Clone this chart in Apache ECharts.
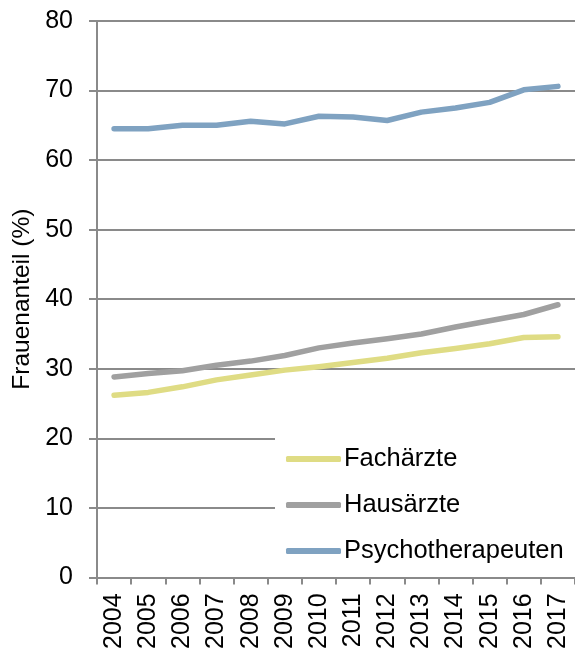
<!DOCTYPE html>
<html>
<head>
<meta charset="utf-8">
<script src="https://cdn.jsdelivr.net/npm/echarts@6/dist/echarts.min.js"></script>
<style>
html,body{margin:0;padding:0;background:#fff;}
#c{width:575px;height:652px;}
</style>
</head>
<body>
<div id="c"></div>
<script>
var years = ['2004','2005','2006','2007','2008','2009','2010','2011','2012','2013','2014','2015','2016','2017'];
var fachaerzte = [26.2, 26.6, 27.4, 28.4, 29.1, 29.8, 30.3, 30.9, 31.5, 32.3, 32.9, 33.6, 34.5, 34.6];
var hausaerzte = [28.8, 29.3, 29.7, 30.5, 31.1, 31.9, 33.0, 33.7, 34.3, 35.0, 36.0, 36.9, 37.8, 39.2];
var psychotherapeuten = [64.5, 64.5, 65.0, 65.0, 65.6, 65.2, 66.3, 66.2, 65.7, 66.9, 67.5, 68.3, 70.1, 70.6];
var yTicks = [0, 10, 20, 30, 40, 50, 60, 70, 80];

var font = 'Liberation Sans, Arial, sans-serif';
var axisColor = '#8a8a8a';
var chart = echarts.init(document.getElementById('c'));
function mk(name, data, color) {
  return {
    name: name, type: 'line', data: data, symbol: 'none', smooth: false,
    lineStyle: { color: color, width: 5.5, cap: 'round', join: 'round' },
    itemStyle: { color: color }
  };
}
chart.setOption({
  animation: false,
  backgroundColor: '#fff',
  grid: { left: 97, right: -4, top: 21, bottom: 73, containLabel: false },
  xAxis: {
    type: 'category', data: years, boundaryGap: true,
    axisLine: { lineStyle: { color: axisColor, width: 2 } },
    axisTick: { show: true, alignWithLabel: false, length: 7, lineStyle: { color: axisColor, width: 2 } },
    axisLabel: { rotate: 90, margin: 16, fontSize: 25, color: '#000', fontFamily: font, interval: 0 },
    splitLine: { show: false }
  },
  yAxis: {
    type: 'value', min: yTicks[0], max: yTicks[yTicks.length - 1], interval: 10,
    name: 'Frauenanteil (%)', nameLocation: 'middle', nameGap: 62, nameRotate: 90,
    nameTextStyle: { fontSize: 24.5, color: '#000', fontFamily: font },
    axisLine: { show: true, lineStyle: { color: axisColor, width: 2 } },
    axisTick: { show: true, length: 8, lineStyle: { color: axisColor, width: 2 } },
    axisLabel: { margin: 24, fontSize: 25, color: '#000', fontFamily: font },
    splitLine: { show: true, lineStyle: { color: axisColor, width: 2 } }
  },
  legend: {
    orient: 'vertical', left: 275, top: 438,
    backgroundColor: '#fff',
    padding: [8, 30, 3, 11],
    itemWidth: 55, itemHeight: 6, itemGap: 20,
    icon: 'roundRect',
    textStyle: { fontSize: 25.5, color: '#000', fontFamily: font, lineHeight: 25, padding: [0,0,0,-2] },
    data: ['Fachärzte', 'Hausärzte', 'Psychotherapeuten']
  },
  series: [
    mk('Fachärzte', fachaerzte, '#DFDC84'),
    mk('Hausärzte', hausaerzte, '#A0A0A0'),
    mk('Psychotherapeuten', psychotherapeuten, '#7FA2C1')
  ]
});
</script>
</body>
</html>
